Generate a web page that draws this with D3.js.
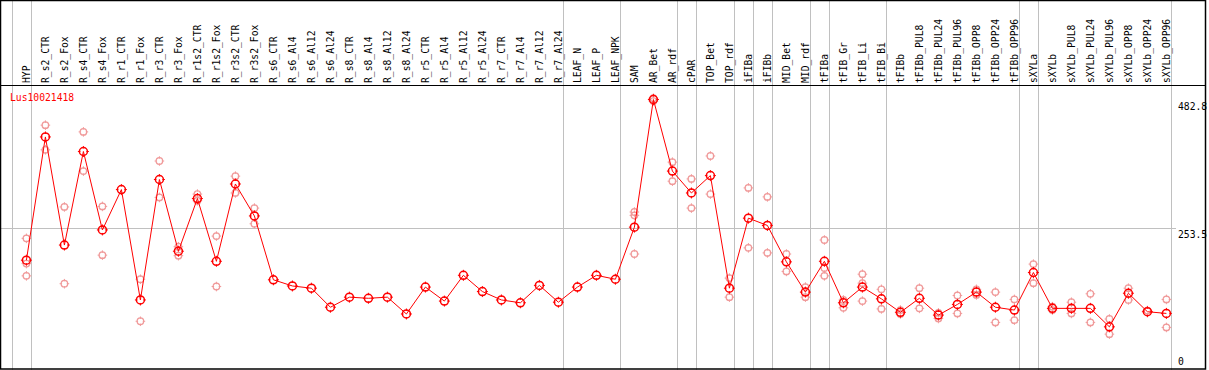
<!DOCTYPE html>
<html>
<head>
<meta charset="utf-8">
<script src="https://cdn.jsdelivr.net/npm/d3@7"></script>
<style>
  body { margin: 0; background: #fff; }
  text { font-family: "DejaVu Sans Mono", monospace; }
</style>
</head>
<body>
<div class="display"></div>
<script>
const categories = ['HYP', 'R_s2_CTR', 'R_s2_Fox', 'R_s4_CTR', 'R_s4_Fox', 'R_r1_CTR', 'R_r1_Fox', 'R_r3_CTR', 'R_r3_Fox',
    'R_r1s2_CTR', 'R_r1s2_Fox', 'R_r3s2_CTR', 'R_r3s2_Fox', 'R_s6_CTR', 'R_s6_Al4', 'R_s6_Al12', 'R_s6_Al24',
    'R_s8_CTR', 'R_s8_Al4', 'R_s8_Al12', 'R_s8_Al24', 'R_r5_CTR', 'R_r5_Al4', 'R_r5_Al12', 'R_r5_Al24',
    'R_r7_CTR', 'R_r7_Al4', 'R_r7_Al12', 'R_r7_Al24', 'LEAF_N', 'LEAF_P', 'LEAF_NPK', 'SAM', 'AR_Bet', 'AR_rdf',
    'cPAR', 'TOP_Bet', 'TOP_rdf', 'iFIBa', 'iFIBb', 'MID_Bet', 'MID_rdf', 'tFIBa', 'tFIB_Gr', 'tFIB_Li', 'tFIB_Bi',
    'tFIBb', 'tFIBb_PUL8', 'tFIBb_PUL24', 'tFIBb_PUL96', 'tFIBb_OPP8', 'tFIBb_OPP24', 'tFIBb_OPP96',
    'sXYLa', 'sXYLb', 'sXYLb_PUL8', 'sXYLb_PUL24', 'sXYLb_PUL96', 'sXYLb_OPP8', 'sXYLb_OPP24', 'sXYLb_OPP96'];

const means = [196, 416, 223, 390, 250, 322, 125, 340, 212, 306, 194, 332, 275, 161, 150, 146, 112,
    130, 128, 130, 100, 148, 123, 169, 140, 125, 120, 151, 121, 148, 169, 162, 255, 482.8, 355,
    316, 347, 146, 271, 258, 193, 139, 194, 120, 148, 127, 103, 128, 98, 117, 139, 112, 107,
    174, 110, 110, 110, 77, 137, 104, 101];

const replicates = [
    [235, 190, 168], [437, 393], [291, 154], [425, 355], [292, 205], [], [162, 87], [373, 308], [220, 204],
    [314, 302], [239, 149], [346, 316], [289, 261], [], [], [], [],
    [], [], [], [], [], [], [], [],
    [], [], [], [], [], [], [], [282, 276, 207], [485, 480], [371, 337],
    [341, 289], [382, 314], [164, 130], [325, 218], [309, 209], [207, 176], [148, 130], [232, 182, 168], [125, 111], [171, 155, 123], [144, 109],
    [107, 100], [146, 110], [102, 92], [133, 101], [144, 134], [139, 85], [126, 89],
    [189, 155], [113, 107], [121, 101], [136, 85], [91, 64], [146, 125], [106], [126, 76]];

// a grey column line is drawn on the right side of each of these
const separatorAfter = ['HYP', 'R_r7_Al24', 'LEAF_NPK', 'AR_rdf', 'cPAR', 'TOP_rdf', 'iFIBa', 'iFIBb',
    'MID_rdf', 'tFIBa', 'tFIB_Bi', 'tFIBb_OPP96', 'sXYLa', 'sXYLb_OPP96'];

const yTicks = [0, 253.5, 482.8];
const title = 'Lus10021418';

const width = 1209;
const height = 370;
const headerY = 85;

const svg = d3.select('.display')
    .append('svg')
    .attr('width', width)
    .attr('height', height);

const x = d3.scalePoint()
    .domain(categories)
    .range([26.4, 26.4 + 19 * (categories.length - 1)]);

const y = d3.scaleLinear()
    .domain([0, 482.8])
    .range([370, 99.5]);

// column separators
const sepX = [x(categories[0]) - 14.5].concat(separatorAfter.map(c => x(c) + 4.5));
svg.append('g')
    .selectAll('line')
    .data(sepX)
    .enter()
    .append('line')
    .attr('x1', d => Math.round(d) + 0.5)
    .attr('x2', d => Math.round(d) + 0.5)
    .attr('y1', 0)
    .attr('y2', height)
    .attr('stroke', '#c0c0c0');

// mid grid line
svg.append('line')
    .attr('x1', 1)
    .attr('x2', 1176)
    .attr('y1', Math.round(y(yTicks[1])) + 0.5)
    .attr('y2', Math.round(y(yTicks[1])) + 0.5)
    .attr('stroke', '#c0c0c0');

// frame
svg.append('rect')
    .attr('x', 0.5)
    .attr('y', 0.5)
    .attr('width', 1205)
    .attr('height', 368.5)
    .attr('fill', 'none')
    .attr('stroke', 'black')
    .attr('stroke-width', 1.5);

svg.append('line')
    .attr('x1', 0)
    .attr('x2', 1206)
    .attr('y1', headerY + 0.5)
    .attr('y2', headerY + 0.5)
    .attr('stroke', 'black')
    .attr('stroke-width', 1.2);

// column labels
svg.append('g')
    .selectAll('text')
    .data(categories)
    .enter()
    .append('text')
    .attr('transform', d => `translate(${x(d) + 4}, ${headerY - 2}) rotate(-90)`)
    .attr('font-size', '9.7px')
    .attr('fill', 'black')
    .text(d => d);

// y labels
svg.append('g')
    .selectAll('text')
    .data(yTicks)
    .enter()
    .append('text')
    .attr('x', 1178)
    .attr('y', d => Math.min(y(d) + 10, 365))
    .attr('font-size', '9.7px')
    .attr('fill', 'black')
    .text(d => d);

svg.append('text')
    .attr('x', 10)
    .attr('y', 101)
    .attr('font-size', '9.7px')
    .attr('fill', 'red')
    .text(title);

const marker = (g, r, color, sw) => {
    g.append('circle')
        .attr('r', r)
        .attr('fill', 'none')
        .attr('stroke', color)
        .attr('stroke-width', sw);
    g.append('path')
        .attr('d', `M0,${-r - 1.5}V${-r + 1}M0,${r - 1}V${r + 1.5}M${-r - 1.5},0H${-r + 1}M${r - 1},0H${r + 1.5}`)
        .attr('stroke', color)
        .attr('stroke-width', 1);
};

// replicate points
const reps = [];
replicates.forEach((vals, i) => vals.forEach(v => reps.push({ c: categories[i], v })));
svg.append('g')
    .selectAll('g')
    .data(reps)
    .enter()
    .append('g')
    .attr('transform', d => `translate(${x(d.c)}, ${y(d.v)})`)
    .each(function() { marker(d3.select(this), 3.3, '#f09a9a', 1.2); });

// mean line
svg.append('path')
    .datum(means)
    .attr('fill', 'none')
    .attr('stroke', 'red')
    .attr('stroke-width', 1)
    .attr('d', d3.line().x((d, i) => x(categories[i])).y(d => y(d)));

svg.append('g')
    .selectAll('g')
    .data(means)
    .enter()
    .append('g')
    .attr('transform', (d, i) => `translate(${x(categories[i])}, ${y(d)})`)
    .each(function() { marker(d3.select(this), 4, 'red', 1.5); });
</script>
</body>
</html>
